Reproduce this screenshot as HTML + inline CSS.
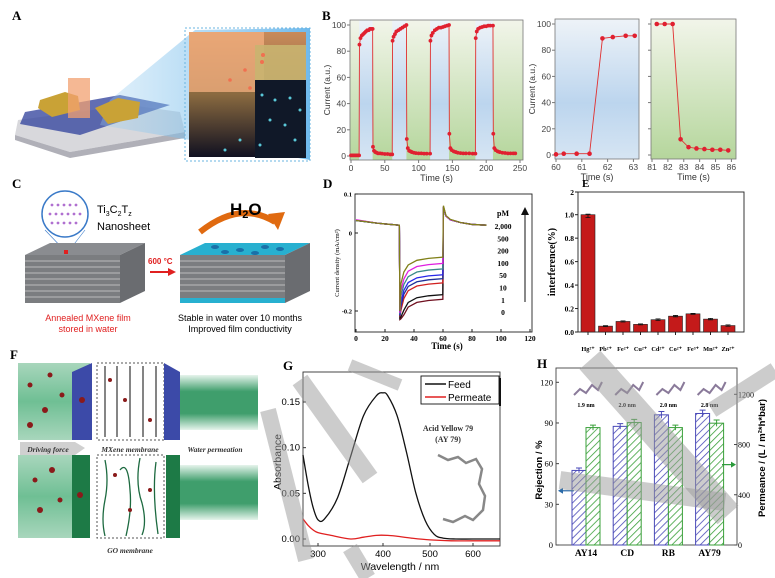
<!DOCTYPE html>
<html><head><meta charset="utf-8">
<style>
html,body{margin:0;padding:0;background:#fff;}
svg{display:block;}
.ps{font-family:"Liberation Serif",serif;}
.ss{font-family:"Liberation Sans",sans-serif;}
</style></head>
<body>
<svg id="fig" width="775" height="578" viewBox="0 0 775 578" xmlns="http://www.w3.org/2000/svg">
<defs>
<linearGradient id="gGreen" x1="0" y1="0" x2="0" y2="1"><stop offset="0" stop-color="#f2f5ea"/><stop offset="1" stop-color="#b5d69c"/></linearGradient>
<linearGradient id="gBlue" x1="0" y1="0" x2="0" y2="1"><stop offset="0" stop-color="#eef3f8"/><stop offset="0.6" stop-color="#bcd5ee"/><stop offset="1" stop-color="#d6e5f3"/></linearGradient>
<linearGradient id="gDark" x1="0" y1="0" x2="0" y2="1"><stop offset="0" stop-color="#c98a5a"/><stop offset="0.5" stop-color="#8a6a40"/><stop offset="1" stop-color="#101020"/></linearGradient>
<linearGradient id="gCone" x1="0" y1="0" x2="1" y2="0"><stop offset="0" stop-color="#9fd0f0" stop-opacity="0.3"/><stop offset="1" stop-color="#4aa8e8" stop-opacity="0.8"/></linearGradient>
<linearGradient id="gF" x1="0" y1="0" x2="0" y2="1"><stop offset="0" stop-color="#a8d6bc"/><stop offset="0.5" stop-color="#6fbf94"/><stop offset="1" stop-color="#a8d6bc"/></linearGradient>
<linearGradient id="gF2" x1="0" y1="0" x2="0" y2="1"><stop offset="0" stop-color="#e6f4ec"/><stop offset="0.3" stop-color="#3f9e6c"/><stop offset="0.7" stop-color="#3f9e6c"/><stop offset="1" stop-color="#e6f4ec"/></linearGradient>
<pattern id="hatchB" width="5" height="5" patternUnits="userSpaceOnUse" patternTransform="rotate(45)"><rect width="5" height="5" fill="#fff"/><line x1="0" y1="0" x2="0" y2="5" stroke="#4a4ab8" stroke-width="1.6"/></pattern>
<pattern id="hatchG" width="5" height="5" patternUnits="userSpaceOnUse" patternTransform="rotate(45)"><rect width="5" height="5" fill="#fff"/><line x1="0" y1="0" x2="0" y2="5" stroke="#3aa03a" stroke-width="1.6"/></pattern>
</defs>

<!-- Panel A -->
<g>
<text x="12" y="20" class="ps" font-size="13" font-weight="bold">A</text>
<polygon points="18,120 130,105 180,112 185,132 70,152 15,135" fill="#d8d8dc"/>
<polygon points="15,135 70,152 185,132 185,138 70,158 15,140" fill="#b0b0b8"/>
<polygon points="25,112 120,95 170,105 80,135 20,124" fill="#3a4aa0" opacity="0.8"/>
<polygon points="195,30 310,28 310,160 100,125 110,100" fill="url(#gCone)"/>
<polygon points="40,100 65,92 78,96 80,110 52,117 38,108" fill="#c9a236"/>
<polygon points="95,108 118,98 140,102 138,118 108,124" fill="#c9a236"/>
<rect x="68" y="78" width="22" height="40" fill="#f2a070" opacity="0.75"/>
<rect x="185" y="28" width="125" height="133" fill="none" stroke="#6ab4e0" stroke-dasharray="2,2"/>
<rect x="189" y="32" width="117" height="125" fill="url(#gDark)"/>
<rect x="189" y="32" width="75" height="60" fill="#f4b080" opacity="0.75"/>
<rect x="255" y="45" width="51" height="35" fill="#c9b470" opacity="0.9"/>
<rect x="255" y="80" width="51" height="78" fill="#101828"/>
<g fill="#5ac8d8">
<circle cx="262" cy="95" r="1.5"/><circle cx="275" cy="100" r="1.5"/><circle cx="290" cy="98" r="1.5"/><circle cx="300" cy="110" r="1.5"/><circle cx="270" cy="120" r="1.5"/><circle cx="285" cy="125" r="1.5"/><circle cx="240" cy="140" r="1.5"/><circle cx="225" cy="150" r="1.5"/><circle cx="295" cy="140" r="1.5"/><circle cx="260" cy="145" r="1.5"/></g>
<g fill="#f07050"><circle cx="263" cy="55" r="2"/><circle cx="262" cy="62" r="2"/><circle cx="245" cy="70" r="1.8"/><circle cx="230" cy="80" r="1.8"/><circle cx="250" cy="88" r="1.8"/></g>
</g>

<!-- Panel C -->
<g>
<text x="12" y="188" class="ps" font-size="13" font-weight="bold">C</text>
<circle cx="65" cy="214" r="23" fill="#fff" stroke="#3a7ac8" stroke-width="1.5"/>
<g fill="#b070d0"><circle cx="52" cy="205" r="1.4"/><circle cx="58" cy="205" r="1.4"/><circle cx="64" cy="205" r="1.4"/><circle cx="70" cy="205" r="1.4"/><circle cx="76" cy="205" r="1.4"/><circle cx="50" cy="214" r="1.4"/><circle cx="56" cy="214" r="1.4"/><circle cx="62" cy="214" r="1.4"/><circle cx="68" cy="214" r="1.4"/><circle cx="74" cy="214" r="1.4"/><circle cx="80" cy="214" r="1.4"/><circle cx="52" cy="223" r="1.4"/><circle cx="58" cy="223" r="1.4"/><circle cx="64" cy="223" r="1.4"/><circle cx="70" cy="223" r="1.4"/><circle cx="76" cy="223" r="1.4"/></g>
<line x1="45" y1="230" x2="66" y2="252" stroke="#3a7ac8" stroke-width="0.6"/><line x1="85" y1="230" x2="68" y2="252" stroke="#3a7ac8" stroke-width="0.6"/>
<text x="97" y="213" class="ss" font-size="11">Ti<tspan font-size="7" dy="3">3</tspan><tspan dy="-3">C</tspan><tspan font-size="7" dy="3">2</tspan><tspan dy="-3">T</tspan><tspan font-size="7" dy="3">z</tspan></text>
<text x="97" y="230" class="ss" font-size="11">Nanosheet</text>
<polygon points="25,255 50,243 145,243 120,255" fill="#8a8c90"/>
<rect x="25" y="255" width="95" height="48" fill="#7b7d80"/>
<polygon points="120,255 145,243 145,291 120,303" fill="#6a6c70"/>
<g stroke="#d0d0d0" stroke-width="0.8"><line x1="25" y1="261" x2="120" y2="261"/><line x1="25" y1="267" x2="120" y2="267"/><line x1="25" y1="273" x2="120" y2="273"/><line x1="25" y1="279" x2="120" y2="279"/><line x1="25" y1="285" x2="120" y2="285"/><line x1="25" y1="291" x2="120" y2="291"/><line x1="25" y1="297" x2="120" y2="297"/></g>
<rect x="64" y="250" width="4" height="4" fill="#e02020"/>
<text x="148" y="264" class="ss" font-size="8" font-weight="bold" fill="#e02020">600 °C</text>
<line x1="150" y1="272" x2="168" y2="272" stroke="#e02020" stroke-width="2"/><polygon points="168,268 176,272 168,276" fill="#e02020"/>
<polygon points="180,255 205,243 310,243 285,255" fill="#28b0d0"/>
<rect x="180" y="255" width="105" height="48" fill="#7b7d80"/>
<polygon points="285,255 310,243 310,291 285,303" fill="#6a6c70"/>
<rect x="180" y="298" width="105" height="5" fill="#28b0d0"/>
<g stroke="#d0d0d0" stroke-width="0.8"><line x1="180" y1="261" x2="285" y2="261"/><line x1="180" y1="267" x2="285" y2="267"/><line x1="180" y1="273" x2="285" y2="273"/><line x1="180" y1="279" x2="285" y2="279"/><line x1="180" y1="285" x2="285" y2="285"/><line x1="180" y1="291" x2="285" y2="291"/></g>
<g fill="#1a70a8"><ellipse cx="215" cy="247" rx="4" ry="2"/><ellipse cx="240" cy="250" rx="4" ry="2"/><ellipse cx="265" cy="247" rx="4" ry="2"/><ellipse cx="225" cy="252" rx="4" ry="2"/><ellipse cx="255" cy="253" rx="4" ry="2"/><ellipse cx="280" cy="249" rx="4" ry="2"/></g>
<path d="M200,232 Q240,200 275,222" fill="none" stroke="#e06a10" stroke-width="6"/>
<polygon points="268,214 285,212 278,230" fill="#e06a10"/>
<text x="230" y="215" class="ss" font-size="17" font-weight="bold">H<tspan font-size="11" dy="3">2</tspan><tspan dy="-3">O</tspan></text>
<text x="88" y="321" class="ss" font-size="9" fill="#e02020" text-anchor="middle">Annealed MXene film</text>
<text x="88" y="332" class="ss" font-size="9" fill="#e02020" text-anchor="middle">stored in water</text>
<text x="240" y="321" class="ss" font-size="9" text-anchor="middle">Stable in water over 10 months</text>
<text x="240" y="332" class="ss" font-size="9" text-anchor="middle">Improved film conductivity</text>
</g>

<!-- Panel F -->
<g>
<text x="10" y="359" class="ps" font-size="13" font-weight="bold">F</text>
<rect x="18" y="363" width="72" height="77" fill="url(#gF)"/>
<polygon points="72,372 92,363 92,440 72,440" fill="#3c4aa8"/>
<rect x="97" y="363" width="67" height="77" fill="#fff" stroke="#555" stroke-dasharray="2,2"/>
<g stroke="#333" stroke-width="1.2"><line x1="105" y1="366" x2="105" y2="437"/><line x1="117" y1="366" x2="117" y2="437"/><line x1="130" y1="366" x2="130" y2="437"/><line x1="143" y1="366" x2="143" y2="437"/><line x1="156" y1="366" x2="156" y2="437"/></g>
<polygon points="164,363 180,372 180,440 164,440" fill="#3c4aa8"/>
<rect x="180" y="375" width="78" height="55" fill="url(#gF2)"/>
<rect x="18" y="455" width="72" height="83" fill="url(#gF)"/>
<rect x="72" y="455" width="18" height="83" fill="#1d7a46"/>
<rect x="97" y="455" width="67" height="83" fill="#fff" stroke="#555" stroke-dasharray="2,2"/>
<g fill="none" stroke="#1d6a40" stroke-width="1.3"><path d="M105,460 q4,20 0,40 q-4,20 0,36"/><path d="M120,470 q8,-10 10,20 q2,20 -4,46"/><path d="M140,458 q-5,25 2,45 q5,20 0,32"/><path d="M156,462 q-4,30 2,72"/></g>
<rect x="166" y="455" width="14" height="83" fill="#1d7a46"/>
<rect x="180" y="465" width="78" height="55" fill="url(#gF2)"/>
<g fill="#8a1a1a"><circle cx="30" cy="385" r="2.5"/><circle cx="50" cy="375" r="2.5"/><circle cx="45" cy="410" r="3"/><circle cx="30" cy="425" r="3"/><circle cx="62" cy="395" r="2.5"/><circle cx="82" cy="400" r="3"/><circle cx="35" cy="480" r="2.5"/><circle cx="52" cy="470" r="3"/><circle cx="40" cy="510" r="3"/><circle cx="60" cy="500" r="2.5"/><circle cx="80" cy="495" r="3"/><circle cx="110" cy="380" r="2"/><circle cx="125" cy="400" r="2"/><circle cx="150" cy="420" r="2"/><circle cx="115" cy="475" r="2"/><circle cx="130" cy="510" r="2"/><circle cx="150" cy="490" r="2"/></g>
<polygon points="20,442 75,442 85,448 75,455 20,455" fill="#d0d0d0"/>
<text x="48" y="452" class="ps" font-size="7.5" font-style="italic" font-weight="bold" fill="#333" text-anchor="middle">Driving force</text>
<text x="130" y="452" class="ps" font-size="7.5" font-style="italic" font-weight="bold" fill="#333" text-anchor="middle">MXene membrane</text>
<text x="215" y="452" class="ps" font-size="7.5" font-style="italic" font-weight="bold" fill="#333" text-anchor="middle">Water permeation</text>
<text x="130" y="553" class="ps" font-size="7.5" font-style="italic" font-weight="bold" fill="#333" text-anchor="middle">GO membrane</text>
</g>

<!-- Chart containers -->
<g id="panelB"></g>
<g id="panelD"></g>
<g id="panelE"></g>
<g id="panelG"></g>
<g id="panelH"></g>
<g id="watermark" stroke="#9a9a9a" stroke-opacity="0.5" fill="none" stroke-linecap="butt">
<line x1="300" y1="380" x2="370" y2="478" stroke-width="18"/>
<line x1="268" y1="410" x2="306" y2="560" stroke-width="16"/>
<line x1="350" y1="548" x2="368" y2="578" stroke-width="16"/>
<line x1="350" y1="365" x2="400" y2="385" stroke-width="12"/>
<line x1="590" y1="360" x2="728" y2="515" stroke-width="28"/>
<line x1="560" y1="480" x2="725" y2="502" stroke-width="18"/>
<line x1="712" y1="410" x2="775" y2="370" stroke-width="16"/>
</g>
</svg>

<script>
const NS='http://www.w3.org/2000/svg';
function el(parent,tag,attrs,text){const e=document.createElementNS(NS,tag);for(const k in attrs)e.setAttribute(k,attrs[k]);if(text!==undefined)e.textContent=text;parent.appendChild(e);return e;}
function lin(d0,d1,r0,r1){return v=>r0+(v-d0)*(r1-r0)/(d1-d0);}
function pw(ds,rs){return v=>{for(let i=0;i<ds.length-1;i++){if(v<=ds[i+1]||i===ds.length-2){return rs[i]+(v-ds[i])*(rs[i+1]-rs[i])/(ds[i+1]-ds[i]);}}};}
function smooth(pts){let d='M'+pts[0][0]+','+pts[0][1];for(let i=0;i<pts.length-1;i++){const p0=pts[i-1]||pts[i],p1=pts[i],p2=pts[i+1],p3=pts[i+2]||p2;const c1=[p1[0]+(p2[0]-p0[0])/6,p1[1]+(p2[1]-p0[1])/6],c2=[p2[0]-(p3[0]-p1[0])/6,p2[1]-(p3[1]-p1[1])/6];d+=' C'+c1[0]+','+c1[1]+' '+c2[0]+','+c2[1]+' '+p2[0]+','+p2[1];}return d;}

/* ===== Panel B data ===== */
const bTime=[0,2,4,6,8,10,12,12.5,14,16,18,20,22,24,26,28,30,32,32.5,34,36,38,40,43,46,50,54,58,61,61.5,63,65,67,70,73,76,79,82,82.5,84,86,88,90,93,96,100,104,108,112,117,117.5,119,121,124,127,130,133,136,139,142,145,145.5,147,149,152,155,158,162,166,170,175,180,184,184.5,186,188,191,194,197,200,203,206,210,210.5,212,214,217,220,224,228,232,236,240,243];
const bCurrent=[0.5,0.5,0.5,0.5,0.5,0.5,0.5,85,90,92,93,94,95,96,96,97,97,97,7,4,3,2.5,2,2,1.8,1.5,1.5,1.2,1.2,88,91,93,95,96,97,98,99,100,13,6,4,3.5,3,2.5,2.2,2,2,1.8,1.8,1.8,88,92,94,96,97,98,98,98.5,99,99.5,100,17,6,4.5,3.5,3,2.5,2.2,2,2,2,1.8,1.8,90,95,97,98,98.5,99,99,99.5,99.5,99.5,17,6,4.5,3.5,3,2.5,2.3,2,2,2,2];
const bOnStart=[12,61,117,184];
const bOnEnd=[32,82,145,210];
const bTicksX=[0,50,100,150,200,250];
const bTicksY=[0,20,40,60,80,100];
const b2Time=[60,60.3,60.8,61.3,61.8,62.2,62.7,63.05];
const b2Current=[0.5,1,1,1,89,90,91,91];
const b2TicksX=[60,61,62,63];
const b3Time=[81.3,81.8,82.3,82.8,83.3,83.8,84.3,84.8,85.3,85.8];
const b3Current=[100,100,100,12,6,5,4.5,4,4,3.5];
const b3TicksX=[81,82,83,84,85,86];

(function(){
const g=document.getElementById('panelB');
el(g,'text',{x:322,y:20,class:'ps','font-size':13,'font-weight':'bold',},'B');
function axesPanel(name,x0,x1,yTop,yBot,dx0,dx1,bg,times,vals,ticksX,showY,bands,r){
  const sx=lin(dx0,dx1,x0+1,x1-3), sy=lin(0,100,yBot-4,yTop+5);
  const pg=el(g,'g',{});
  el(pg,'rect',{x:x0,y:yTop,width:x1-x0,height:yBot-yTop,fill:bg});
  if(bands){for(let i=0;i<bands[0].length;i++){const rr=el(pg,'rect',{x:sx(bands[0][i]),y:yTop,width:sx(bands[1][i])-sx(bands[0][i]),height:yBot-yTop,fill:'url(#gBlue)'});}}
  el(pg,'rect',{x:x0,y:yTop,width:x1-x0,height:yBot-yTop,fill:'none',stroke:'#777','stroke-width':0.8});
  ticksX.forEach(t=>{el(pg,'line',{x1:sx(t),x2:sx(t),y1:yBot,y2:yBot+3,stroke:'#777'});const tx=el(pg,'text',{x:sx(t),y:yBot+11,'text-anchor':'middle',class:'ss','font-size':8.5,fill:'#444'},t);});
  bTicksY.forEach(t=>{el(pg,'line',{x1:x0,x2:x0-3,y1:sy(t),y2:sy(t),stroke:'#777'});if(showY){const ty=el(pg,'text',{x:x0-4,y:sy(t)+3,'text-anchor':'end',class:'ss','font-size':8.5,fill:'#444'},t);}});
  const xt=el(pg,'text',{x:(x0+x1)/2,y:yBot+21,'text-anchor':'middle',class:'ss','font-size':9,fill:'#333'},'Time (s)');
  if(showY){const yt=el(pg,'text',{x:0,y:0,transform:'translate('+(x0-20)+','+((yTop+yBot)/2)+') rotate(-90)','text-anchor':'middle',class:'ss','font-size':8.5,fill:'#333'},'Current (a.u.)');}
  const pts=times.map((t,i)=>sx(t)+','+sy(vals[i])).join(' ');
  const pl=el(pg,'polyline',{points:pts,fill:'none',stroke:'#e03030','stroke-width':0.9});
  times.forEach((t,i)=>{const c=el(pg,'circle',{cx:sx(t),cy:sy(vals[i]),r:r,fill:'#e02030'});});
}
axesPanel('chart-b-cycles',350,523,20,160,0,250,'url(#gGreen)',bTime,bCurrent,bTicksX,true,[bOnStart,bOnEnd],1.9);
axesPanel('chart-b-rise',555,639,19,159,60,63.1,'url(#gBlue)',b2Time,b2Current,b2TicksX,true,null,2.3);
axesPanel('chart-b-fall',651,736,19,159,81,86.1,'url(#gGreen)',b3Time,b3Current,b3TicksX,false,null,2.3);
})();

/* ===== Panel D data ===== */
const dTime=[0,5,15,29.9,30.3,31,33,36,42,50,59.9,60.3,62,65,72,80,90];
const dLabels=['2,000','500','200','100','50','10','1','0'];
const dColors=['#808018','#e020e0','#3a8a8a','#2828e8','#203098','#d02020','#111111','#701020'];
const dOlive=[0.032,0.03,0.025,0.02,-0.2,-0.13,-0.1,-0.082,-0.07,-0.065,-0.062,0.07,0.045,0.035,0.027,0.022,0.02];
const dMagenta=[0.034,0.031,0.025,0.02,-0.205,-0.148,-0.118,-0.098,-0.086,-0.081,-0.078,0.068,0.044,0.034,0.027,0.022,0.02];
const dTeal=[0.032,0.03,0.025,0.02,-0.208,-0.162,-0.132,-0.112,-0.1,-0.095,-0.092,0.067,0.044,0.034,0.027,0.022,0.02];
const dBlue=[0.032,0.03,0.025,0.02,-0.21,-0.177,-0.147,-0.127,-0.115,-0.11,-0.107,0.066,0.044,0.034,0.027,0.022,0.02];
const dNavy=[0.032,0.03,0.025,0.02,-0.212,-0.187,-0.157,-0.137,-0.125,-0.12,-0.117,0.066,0.044,0.034,0.027,0.022,0.02];
const dRed=[0.032,0.03,0.025,0.02,-0.214,-0.198,-0.168,-0.148,-0.136,-0.131,-0.128,0.066,0.044,0.034,0.027,0.022,0.02];
const dBlack=[0.032,0.03,0.025,0.02,-0.218,-0.215,-0.198,-0.178,-0.166,-0.161,-0.158,0.066,0.044,0.034,0.027,0.022,0.02];
const dDarkRed=[0.032,0.03,0.025,0.02,-0.222,-0.22,-0.21,-0.19,-0.178,-0.173,-0.17,0.066,0.044,0.034,0.027,0.022,0.02];
const dSeries=[dOlive,dMagenta,dTeal,dBlue,dNavy,dRed,dBlack,dDarkRed];
const dTicksX=[0,20,40,60,80,100,120];
const dTicksY=[0.1,0,-0.2];
(function(){
const g=document.getElementById('panelD');
el(g,'text',{x:323,y:188,class:'ps','font-size':13,'font-weight':'bold',},'D');
const x0=355,x1=532,yT=194,yB=332;
const sx=lin(0,120,356,530), sy=lin(0.1,-0.2,194,311);
el(g,'rect',{x:x0,y:yT,width:x1-x0,height:yB-yT,fill:'#fff',stroke:'#222','stroke-width':0.9,});
dTicksX.forEach(t=>{el(g,'line',{x1:sx(t),x2:sx(t),y1:yB,y2:yB-3,stroke:'#222'});const tx=el(g,'text',{x:sx(t),y:yB+9,'text-anchor':'middle',class:'ps','font-size':7.5,'font-weight':'bold'},t);});
dTicksY.forEach(t=>{el(g,'line',{x1:x0,x2:x0+3,y1:sy(t),y2:sy(t),stroke:'#222'});const ty=el(g,'text',{x:x0-3,y:sy(t)+2.5,'text-anchor':'end',class:'ps','font-size':6.5,'font-weight':'bold'},t);});
const xt=el(g,'text',{x:447,y:349,'text-anchor':'middle',class:'ps','font-size':9,'font-weight':'bold'},'Time (s)');
const yt=el(g,'text',{x:0,y:0,transform:'translate(339,263) rotate(-90)','text-anchor':'middle',class:'ps','font-size':6.5},'Current density (mA/cm²)');
for(let s=dSeries.length-1;s>=0;s--){const pts=dTime.map((t,i)=>sx(t)+','+sy(dSeries[s][i])).join(' ');const pl=el(g,'polyline',{points:pts,fill:'none',stroke:dColors[s],'stroke-width':1.3});}
const lt=el(g,'text',{x:503,y:216,'text-anchor':'middle',class:'ps','font-size':8,'font-weight':'bold'},'pM');
dLabels.forEach((l,i)=>{const t=el(g,'text',{x:503,y:229+i*12.3,'text-anchor':'middle',class:'ps','font-size':7.5,'font-weight':'bold'},l);});
el(g,'line',{x1:525,x2:525,y1:302,y2:213,stroke:'#111','stroke-width':1,});
el(g,'polygon',{points:'521,215 525,207 529,215',fill:'#111'});
})();

/* ===== Panel E data ===== */
const eIons=['Hg²⁺','Pb²⁺','Fe²⁺','Cu²⁺','Cd²⁺','Co²⁺','Fe³⁺','Mn²⁺','Zn²⁺'];
const eValues=[1.0,0.05,0.09,0.065,0.105,0.135,0.155,0.11,0.055];
const eErrors=[0.025,0.004,0.005,0.004,0.007,0.006,0.004,0.006,0.006];
const eTicks=[0,0.2,0.4,0.6,0.8,1.0,2];
(function(){
const g=document.getElementById('panelE');
el(g,'text',{x:582,y:187,class:'ps','font-size':11,'font-weight':'bold',},'E');
const x0=578,x1=744,yT=192,yB=332;
const sy=pw([0,1,2],[332,214.7,192]);
const sx=i=>588+i*17.5;
el(g,'rect',{x:x0,y:yT,width:x1-x0,height:yB-yT,fill:'#fff',stroke:'#222','stroke-width':0.9,});
eTicks.forEach(t=>{el(g,'line',{x1:x0,x2:x0-3,y1:sy(t),y2:sy(t),stroke:'#222'});const ty=el(g,'text',{x:x0-4,y:sy(t)+3,'text-anchor':'end',class:'ps','font-size':7.5,'font-weight':'bold'},t===2?'2':t.toFixed(1));});
eValues.forEach((v,i)=>{
 const b=el(g,'rect',{x:sx(i)-7,y:sy(v),width:14,height:yB-sy(v),fill:'#c41a1a',stroke:'#222','stroke-width':0.6});
 const e=el(g,'path',{d:'M'+sx(i)+','+sy(v+eErrors[i])+'V'+sy(v-eErrors[i])+'M'+(sx(i)-2.5)+','+sy(v+eErrors[i])+'h5M'+(sx(i)-2.5)+','+sy(v-eErrors[i])+'h5',stroke:'#111','stroke-width':0.8,fill:'none'});
 el(g,'line',{x1:sx(i),x2:sx(i),y1:yB,y2:yB+3,stroke:'#222'});
 const t=el(g,'text',{x:sx(i),y:351,'text-anchor':'middle',class:'ps','font-size':6.3,'font-weight':'bold'},eIons[i]);
});
const yt=el(g,'text',{x:0,y:0,transform:'translate(555,262) rotate(-90)','text-anchor':'middle',class:'ps','font-size':10,'font-weight':'bold'},'interference(%)');
})();

/* ===== Panel G data ===== */
const gFeedWl=[270,280,290,300,310,330,350,370,390,400,410,430,450,470,490,510,530,560,600,650];
const gFeedAbs=[0.092,0.06,0.035,0.021,0.022,0.045,0.09,0.135,0.157,0.16,0.157,0.135,0.095,0.05,0.02,0.005,0.001,0,0,0];
const gPermWl=[270,280,290,300,320,350,370,390,410,430,460,500,550,600,650];
const gPermAbs=[0.022,0.015,0.01,0.007,0.004,0,0.002,0.004,0.004,0.003,0.001,-0.001,-0.002,-0.002,-0.002];
const gTicksX=[300,400,500,600];
const gTicksY=[0,0.05,0.10,0.15];
(function(){
const g=document.getElementById('panelG');
el(g,'text',{x:283,y:370,class:'ps','font-size':13,'font-weight':'bold',},'G');
const x0=303,x1=500,yT=372,yB=546;
const sx=pw([270,300,400,500,600,650],[303,318,383,430,473,500]), sy=lin(0,0.15,539,402);
el(g,'rect',{x:x0,y:yT,width:x1-x0,height:yB-yT,fill:'#fff',stroke:'#333','stroke-width':0.9,});
gTicksX.forEach(t=>{el(g,'line',{x1:sx(t),x2:sx(t),y1:yB,y2:yB-3,stroke:'#333'});const tx=el(g,'text',{x:sx(t),y:yB+11,'text-anchor':'middle',class:'ss','font-size':9.5},t);});
gTicksY.forEach(t=>{el(g,'line',{x1:x0,x2:x0+3,y1:sy(t),y2:sy(t),stroke:'#333'});const ty=el(g,'text',{x:x0-3,y:sy(t)+3,'text-anchor':'end',class:'ss','font-size':9.5},t.toFixed(2));});
const xt=el(g,'text',{x:400,y:570,'text-anchor':'middle',class:'ss','font-size':10.5},'Wavelength / nm');
const yt=el(g,'text',{x:0,y:0,transform:'translate(281,462) rotate(-90)','text-anchor':'middle',class:'ss','font-size':10.5},'Absorbance');
const f=el(g,'path',{d:smooth(gFeedWl.map((w,i)=>[sx(w),sy(gFeedAbs[i])])),fill:'none',stroke:'#111','stroke-width':1.3});
const p=el(g,'path',{d:smooth(gPermWl.map((w,i)=>[sx(w),sy(gPermAbs[i])])),fill:'none',stroke:'#e02020','stroke-width':1.3});
el(g,'rect',{x:421,y:376,width:78,height:28,fill:'#fff',stroke:'#111','stroke-width':0.9,});
el(g,'rect',{x:499,y:378,width:2,height:28,fill:'#111'});
el(g,'line',{x1:425,x2:446,y1:384,y2:384,stroke:'#111','stroke-width':1.5});
el(g,'line',{x1:425,x2:446,y1:397,y2:397,stroke:'#e02020','stroke-width':1.5});
const l1=el(g,'text',{x:448,y:388,class:'ss','font-size':10},'Feed');
const l2=el(g,'text',{x:448,y:401,class:'ss','font-size':10},'Permeate');
const a1=el(g,'text',{x:448,y:431,'text-anchor':'middle',class:'ps','font-size':8,'font-weight':'bold',fill:'#333'},'Acid Yellow 79');
el(g,'text',{x:448,y:442,'text-anchor':'middle',class:'ps','font-size':8,'font-weight':'bold',fill:'#333'},'(AY 79)');
el(g,'path',{d:'M438,455 l10,5 l10,-3 l8,6 l10,-4 l6,10 l-3,15 l6,12 l-2,14 l-10,10 l-8,-4 l-12,6 l-10,-3',fill:'none',stroke:'#888','stroke-width':2.5,});
})();

/* ===== Panel H data ===== */
const hDyes=['AY14','CD','RB','AY79'];
const hSizes=['1.9 nm','2.0 nm','2.0 nm','2.8 nm'];
const hRejection=[55,87.5,96,97];
const hRejErr=[1.8,2,2.5,2.5];
const hPermeance=[935,975,935,970];
const hPermErr=[20,25,20,25];
const hTicksL=[0,30,60,90,120];
const hTicksR=[0,400,800,1200];
(function(){
const g=document.getElementById('panelH');
el(g,'text',{x:537,y:368,class:'ps','font-size':13,'font-weight':'bold',},'H');
const x0=556,x1=737,yT=368,yB=545;
const syL=lin(0,120,545,382.3), syR=lin(0,1200,545,394.3);
const cx=i=>586+i*41.2;
el(g,'rect',{x:x0,y:yT,width:x1-x0,height:yB-yT,fill:'#fff',stroke:'#444','stroke-width':0.9,});
hTicksL.forEach(t=>{el(g,'line',{x1:x0,x2:x0+3,y1:syL(t),y2:syL(t),stroke:'#444'});const ty=el(g,'text',{x:x0-3,y:syL(t)+3,'text-anchor':'end',class:'ps','font-size':8.5},t);});
hTicksR.forEach(t=>{el(g,'line',{x1:x1,x2:x1-3,y1:syR(t),y2:syR(t),stroke:'#444'});const ty=el(g,'text',{x:x1+1,y:syR(t)+3,class:'ps','font-size':8},t);});
hDyes.forEach((d,i)=>{
 const xb=cx(i)-7, xg=cx(i)+7;
 const rb=el(g,'rect',{x:xb-7,y:syL(hRejection[i]),width:14,height:yB-syL(hRejection[i]),fill:'url(#hatchB)',stroke:'#4a4ab8','stroke-width':1});
 const pb=el(g,'rect',{x:xg-7,y:syR(hPermeance[i]),width:14,height:yB-syR(hPermeance[i]),fill:'url(#hatchG)',stroke:'#3aa03a','stroke-width':1});
 const e1=el(g,'path',{d:'M'+xb+','+syL(hRejection[i]+hRejErr[i])+'V'+syL(hRejection[i]-hRejErr[i])+'M'+(xb-3)+','+syL(hRejection[i]+hRejErr[i])+'h6',stroke:'#4a4ab8','stroke-width':1,fill:'none'});
 const e2=el(g,'path',{d:'M'+xg+','+syR(hPermeance[i]+hPermErr[i])+'V'+syR(hPermeance[i]-hPermErr[i])+'M'+(xg-3)+','+syR(hPermeance[i]+hPermErr[i])+'h6',stroke:'#3aa03a','stroke-width':1,fill:'none'});
 const t=el(g,'text',{x:cx(i),y:556,'text-anchor':'middle',class:'ps','font-size':9.5,'font-weight':'bold'},d);
 const s=el(g,'text',{x:cx(i),y:407,'text-anchor':'middle',class:'ps','font-size':6,'font-weight':'bold'},hSizes[i]);
 const m=el(g,'path',{d:'M'+(cx(i)-12)+',395 l6,-6 l6,4 l6,-8 l6,5 l4,-8',fill:'none',stroke:'#8a7a9a','stroke-width':2});
});
el(g,'line',{x1:574,x2:561,y1:syL(40),y2:syL(40),stroke:'#2a6aa8','stroke-width':1.2,});
el(g,'polygon',{points:'558,'+syL(40)+' 563,'+(syL(40)-3)+' 563,'+(syL(40)+3),fill:'#2a6aa8'});
el(g,'line',{x1:722,x2:733,y1:syR(640),y2:syR(640),stroke:'#2a9a3a','stroke-width':1.2,});
el(g,'polygon',{points:'736,'+syR(640)+' 731,'+(syR(640)-3)+' 731,'+(syR(640)+3),fill:'#2a9a3a'});
const yl=el(g,'text',{x:0,y:0,transform:'translate(542,470) rotate(-90)','text-anchor':'middle',class:'ss','font-size':9.5,'font-weight':'bold'},'Rejection / %');
const yr=el(g,'text',{x:0,y:0,transform:'translate(765,458) rotate(-90)','text-anchor':'middle',class:'ss','font-size':9.5,'font-weight':'bold'},'Permeance / (L / m²*h*bar)');
})();
</script>
</body></html>
